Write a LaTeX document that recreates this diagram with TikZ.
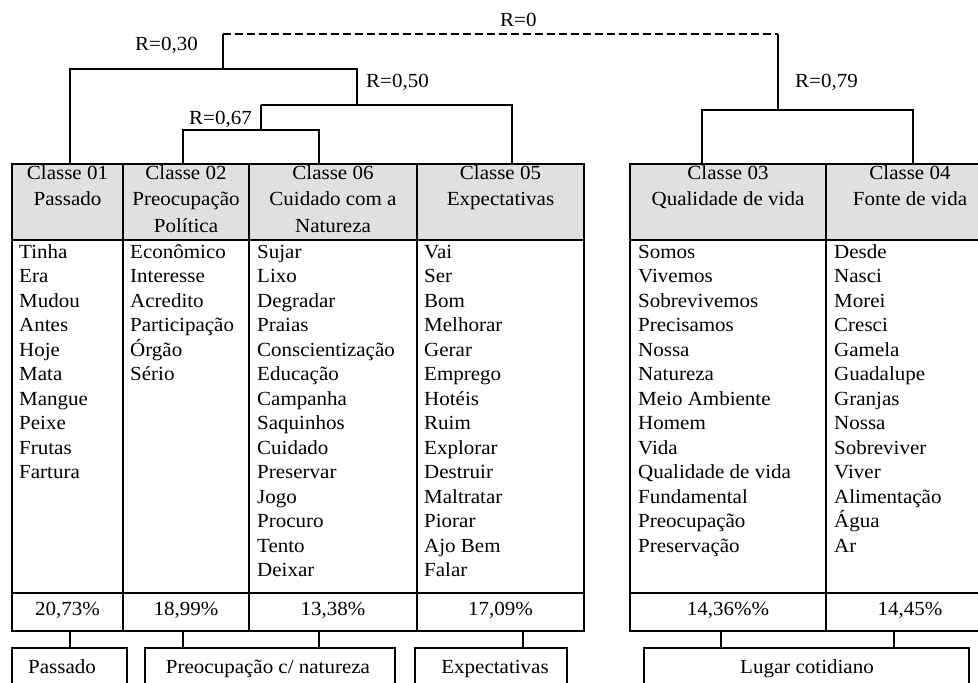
\documentclass[tikz,border=0pt]{standalone}
\usepackage{fontspec}
\setmainfont[FakeStretch=1.05]{Liberation Serif}
\definecolor{hdr}{HTML}{E0E0E0}
\tikzset{
  tbl/.style={draw=black, line width=1.4pt, inner sep=0pt, outer sep=0pt, anchor=north west},
  hcell/.style={tbl, fill=hdr},
  txt/.style={font=\fontsize{20}{24}\selectfont, inner sep=0pt, anchor=base},
  wrd/.style={txt, anchor=base west},
  tree/.style={line width=1.4pt},
  dtree/.style={line width=1.4pt, dash pattern=on 8pt off 4pt},
}
\begin{document}
\begin{tikzpicture}[x=1pt,y=-1pt]
\useasboundingbox (0,0) rectangle (978,683);
\clip (0,0) rectangle (978,683);
\fill[white] (0,0) rectangle (978,683);

% ---------- header cells ----------
\node[hcell, minimum width=111pt, minimum height=76pt] (h1) at (12,164) {};
\node[hcell, minimum width=126pt, minimum height=76pt] (h2) at (123,164) {};
\node[hcell, minimum width=168pt, minimum height=76pt] (h3) at (249,164) {};
\node[hcell, minimum width=167pt, minimum height=76pt] (h4) at (417,164) {};
\node[hcell, minimum width=196pt, minimum height=76pt] (h5) at (630,164) {};
\node[hcell, minimum width=169pt, minimum height=76pt] (h6) at (826,164) {};
% ---------- body cells ----------
\node[tbl, minimum width=111pt, minimum height=353pt] (c1) at (12,240) {};
\node[tbl, minimum width=126pt, minimum height=353pt] (c2) at (123,240) {};
\node[tbl, minimum width=168pt, minimum height=353pt] (c3) at (249,240) {};
\node[tbl, minimum width=167pt, minimum height=353pt] (c4) at (417,240) {};
\node[tbl, minimum width=196pt, minimum height=353pt] (c5) at (630,240) {};
\node[tbl, minimum width=169pt, minimum height=353pt] (c6) at (826,240) {};
% ---------- percentage cells ----------
\node[tbl, minimum width=111pt, minimum height=38pt] (p1) at (12,593) {};
\node[tbl, minimum width=126pt, minimum height=38pt] (p2) at (123,593) {};
\node[tbl, minimum width=168pt, minimum height=38pt] (p3) at (249,593) {};
\node[tbl, minimum width=167pt, minimum height=38pt] (p4) at (417,593) {};
\node[tbl, minimum width=196pt, minimum height=38pt] (p5) at (630,593) {};
\node[tbl, minimum width=169pt, minimum height=38pt] (p6) at (826,593) {};
% ---------- bottom boxes ----------
\node[tbl, minimum width=115pt, minimum height=60pt] (b1) at (12,648) {};
\node[tbl, minimum width=250pt, minimum height=60pt] (b2) at (145,648) {};
\node[tbl, minimum width=152pt, minimum height=60pt] (b3) at (415,648) {};
\node[tbl, minimum width=325pt, minimum height=60pt] (b4) at (644,648) {};

% ---------- header texts ----------
\node[txt] (t1a) at (67.5,179) {Classe 01};
\node[txt] (t1b) at (67.5,205) {Passado};
\node[txt] (t2a) at (186,179) {Classe 02};
\node[txt] (t2b) at (186,205) {Preocupação};
\node[txt] (t2c) at (186,232) {Política};
\node[txt] (t3a) at (333,179) {Classe 06};
\node[txt] (t3b) at (333,205) {Cuidado com a};
\node[txt] (t3c) at (333,232) {Natureza};
\node[txt] (t4a) at (500.5,179) {Classe 05};
\node[txt] (t4b) at (500.5,205) {Expectativas};
\node[txt] (t5a) at (728,179) {Classe 03};
\node[txt] (t5b) at (728,205) {Qualidade de vida};
\node[txt] (t6a) at (910,179) {Classe 04};
\node[txt] (t6b) at (910,205) {Fonte de vida};

% ---------- word lists ----------
\foreach \w [count=\i from 0] in {Tinha,Era,Mudou,Antes,Hoje,Mata,Mangue,Peixe,Frutas,Fartura}
  \node[wrd] (wa\i) at (19,258+24.5*\i) {\w};
\foreach \w [count=\i from 0] in {Econômico,Interesse,Acredito,Participação,Órgão,Sério}
  \node[wrd] (wb\i) at (130,258+24.5*\i) {\w};
\foreach \w [count=\i from 0] in {Sujar,Lixo,Degradar,Praias,Conscientização,Educação,Campanha,Saquinhos,Cuidado,Preservar,Jogo,Procuro,Tento,Deixar}
  \node[wrd] (wc\i) at (257,258+24.5*\i) {\w};
\foreach \w [count=\i from 0] in {Vai,Ser,Bom,Melhorar,Gerar,Emprego,Hotéis,Ruim,Explorar,Destruir,Maltratar,Piorar,Ajo Bem,Falar}
  \node[wrd] (wd\i) at (424,258+24.5*\i) {\w};
\foreach \w [count=\i from 0] in {Somos,Vivemos,Sobrevivemos,Precisamos,Nossa,Natureza,Meio Ambiente,Homem,Vida,Qualidade de vida,Fundamental,Preocupação,Preservação}
  \node[wrd] (we\i) at (638,258+24.5*\i) {\w};
\foreach \w [count=\i from 0] in {Desde,Nasci,Morei,Cresci,Gamela,Guadalupe,Granjas,Nossa,Sobreviver,Viver,Alimentação,Água,Ar}
  \node[wrd] (wf\i) at (834,258+24.5*\i) {\w};

% ---------- percentages ----------
\node[txt] (q1) at (67.5,615) {20,73\%};
\node[txt] (q2) at (186,615) {18,99\%};
\node[txt] (q3) at (333,615) {13,38\%};
\node[txt] (q4) at (500.5,615) {17,09\%};
\node[txt] (q5) at (728,615) {14,36\%\%};
\node[txt] (q6) at (910,615) {14,45\%};

% ---------- bottom box texts ----------
\node[txt] (s1) at (62,673) {Passado};
\node[txt] (s2) at (268,673) {Preocupação c/ natureza};
\node[txt] (s3) at (495,673) {Expectativas};
\node[txt] (s4) at (807,673) {Lugar cotidiano};

% ---------- R labels ----------
\node[txt, anchor=base west] (r0)  at (500,26)  {R=0};
\node[txt, anchor=base west] (r30) at (135,50)  {R=0,30};
\node[txt, anchor=base west] (r50) at (366,87)  {R=0,50};
\node[txt, anchor=base west] (r67) at (189,124) {R=0,67};
\node[txt, anchor=base west] (r79) at (795,87)  {R=0,79};

% ---------- dendrogram ----------
\coordinate (k1) at (70,164);
\coordinate (k2) at (183,164);
\coordinate (k3) at (319,164);
\coordinate (k4) at (512,164);
\coordinate (k5) at (702,164);
\coordinate (k6) at (913,164);
\coordinate (m67) at (261,130);
\coordinate (m50) at (357,105);
\coordinate (m30) at (223,69);
\coordinate (m79) at (778,110);
\coordinate (top30) at (223,34);
\coordinate (top79) at (778,34);

\draw[tree] (k2) |- (k3 |- m67) -- (k3);
\draw[tree] (m67 |- k2) ++(0,-34) -- (m67 |- m50);
\draw[tree] (m67 |- m50) -- (k4 |- m50) -- (k4);
\draw[tree] (k1) |- (m50 |- m30) -- (m50);
\draw[tree] (m30) -- (top30);
\draw[dtree] (top30) -- (top79);
\draw[tree] (top79) -- (m79);
\draw[tree] (k5) |- (k6 |- m79) -- (k6);

% ---------- connectors to bottom boxes ----------
\coordinate (u1) at (70,631);  \coordinate (v1) at (70,648);
\coordinate (u2) at (183,631); \coordinate (v2) at (183,648);
\coordinate (u3) at (319,631); \coordinate (v3) at (319,648);
\coordinate (u4) at (523,631); \coordinate (v4) at (523,648);
\coordinate (u5) at (721,631); \coordinate (v5) at (721,648);
\coordinate (u6) at (894,631); \coordinate (v6) at (894,648);
\foreach \n in {1,...,6} \draw[tree] (u\n) -- (v\n);
\end{tikzpicture}
\end{document}
